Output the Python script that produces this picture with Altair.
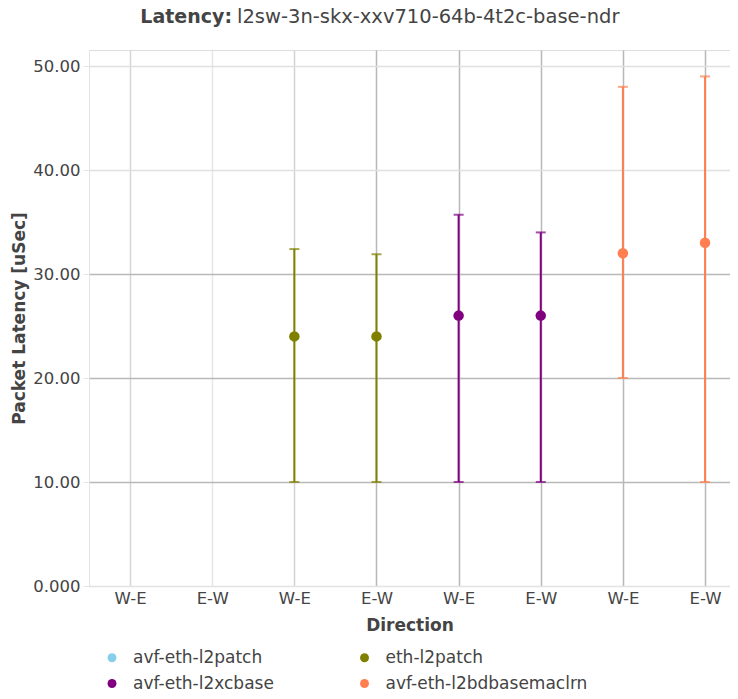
import json
import altair as alt
import pandas as pd

# ---- data ----
tests = ["avf-eth-l2patch", "eth-l2patch", "avf-eth-l2xcbase", "avf-eth-l2bdbasemaclrn"]
colors = ["#87ceeb", "#808000", "#800080", "#ff7f50"]
directions = ["W-E", "E-W", "W-E", "E-W", "W-E", "E-W", "W-E", "E-W"]
slot_series = [0, 0, 1, 1, 2, 2, 3, 3]
avg_lat = [None, None, 24.0, 24.0, 26.0, 26.0, 32.0, 33.0]
min_lat = [None, None, 10.0, 10.0, 10.0, 10.0, 20.0, 10.0]
max_lat = [None, None, 32.4, 31.9, 35.7, 34.0, 48.0, 49.0]
y_ticks = [0, 10, 20, 30, 40, 50]
title_bold = "Latency:"
title_rest = "l2sw-3n-skx-xxv710-64b-4t2c-base-ndr"

rows = []
for i, d in enumerate(directions):
    if avg_lat[i] is None:
        continue
    rows.append(dict(slot=i, direction=d, test=tests[slot_series[i]],
                     avg=avg_lat[i], lo=min_lat[i], hi=max_lat[i]))
df = pd.DataFrame(rows)

FONT = "DejaVu Sans"
TXT = "#444444"

x_enc = alt.X(
    "slot:Q",
    scale=alt.Scale(domain=[-0.5, 7.304], nice=False, zero=False),
    axis=alt.Axis(
        values=list(range(len(directions))),
        labelExpr=json.dumps(directions) + "[datum.value]",
        title="Direction",
        ticks=False,
        labelPadding=4,
        labelFontSize=16.5,
        labelFont=FONT,
        labelColor=TXT,
        titleFont=FONT,
        titleFontSize=17,
        titleFontWeight="bold",
        titleColor=TXT,
        titlePadding=11,
        domainColor="#e3e3e3",
        grid=True,
        gridColor={"condition": [
            {"test": "datum.value == 0", "value": "#d6d6d6"},
            {"test": "datum.value == 1", "value": "#e6e6e6"},
            {"test": "datum.value == 2", "value": "#d2d2d2"},
        ], "value": "#b8b8b8"},
        gridWidth=1.5,
    ),
)


def y_enc(field):
    return alt.Y(
        field + ":Q",
        scale=alt.Scale(domain=[0, 51.54], nice=False, zero=True),
        axis=alt.Axis(
            values=y_ticks,
            labelExpr="datum.value == 0 ? '0.000' : format(datum.value, '.2f')",
            title="Packet Latency [uSec]",
            tickSize=6,
            tickColor="#e3e3e3",
            labelPadding=3,
            labelFontSize=16.5,
            labelFont=FONT,
            labelColor=TXT,
            titleFont=FONT,
            titleFontSize=17,
            titleFontWeight="bold",
            titleColor=TXT,
            titlePadding=4,
            domainColor="#e3e3e3",
            grid=True,
            gridColor={"condition": {"test": "datum.value >= 10 && datum.value <= 30",
                                     "value": "#b8b8b8"},
                       "value": "#e0e0e0"},
            gridWidth=1.5,
        ),
    )


color_scale = alt.Scale(domain=tests, range=colors)
color_enc = alt.Color(
    "test:N",
    scale=color_scale,
    legend=alt.Legend(
        orient="none", legendX=14.5, legendY=599, columns=2, direction="horizontal",
        title=None, symbolType="circle", symbolSize=80, symbolStrokeWidth=0,
        symbolOpacity=1, labelFontSize=17, labelFont=FONT, labelLimit=400,
        labelColor=TXT, columnPadding=81.5, rowPadding=8, labelOffset=12.5,
    ),
)

base = alt.Chart(df)

bars = base.mark_rule(strokeWidth=2).encode(
    x=x_enc, y=y_enc("lo"), y2="hi:Q", color=color_enc)
cap_hi = base.mark_tick(orient="horizontal", size=10, thickness=2).encode(
    x=x_enc, y=y_enc("hi"), color=color_enc)
cap_lo = base.mark_tick(orient="horizontal", size=10, thickness=2).encode(
    x=x_enc, y=y_enc("lo"), color=color_enc)
points = base.mark_circle(size=110, opacity=1).encode(
    x=x_enc, y=y_enc("avg"), color=color_enc,
    tooltip=["test", "direction", "avg", "lo", "hi"])

t1 = alt.Chart(pd.DataFrame({"t": [title_bold]})).mark_text(
    align="right", baseline="middle", font=FONT, fontSize=19, fontWeight="bold",
    color=TXT).encode(text="t:N", x=alt.value(143), y=alt.value(-33))
t2 = alt.Chart(pd.DataFrame({"t": [title_rest]})).mark_text(
    align="left", baseline="middle", font=FONT, fontSize=19.5, color=TXT
).encode(text="t:N", x=alt.value(148), y=alt.value(-33))

chart = alt.layer(bars, cap_hi, cap_lo, points, t1, t2).properties(
    width=641, height=536,
    autosize=alt.AutoSizeParams(type="none"),
    padding={"left": 81, "top": 42, "right": 0, "bottom": 106},
).configure_view(strokeWidth=0).configure(background="white")

chart.save("out.html", embed_options={"renderer": "svg", "actions": False})
